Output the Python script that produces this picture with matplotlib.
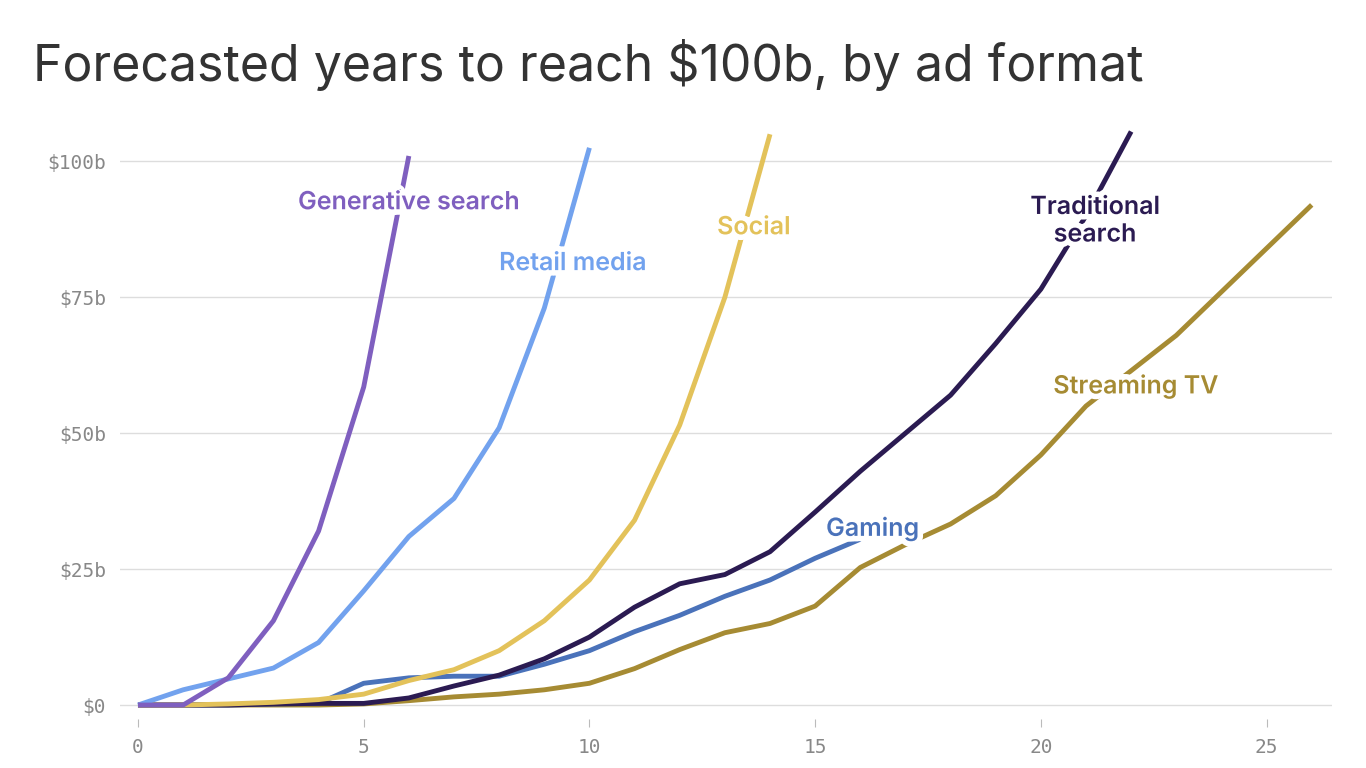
import matplotlib
matplotlib.use("Agg")
import matplotlib.pyplot as plt
import matplotlib.patheffects as pe

gen_search = [0, 0, 5, 15.5, 32, 58.5, 101]
retail = [0, 2.8, 4.8, 6.8, 11.5, 21, 31, 38, 51, 73, 102.5]
social = [0, 0, 0.2, 0.5, 1, 2, 4.5, 6.5, 10, 15.5, 23, 34, 51.5, 75, 105]
gaming = [0, 0, 0, 0.2, 0.3, 4, 5, 5.3, 5.3, 7.5, 10, 13.5, 16.5, 20, 23, 27, 30.5]
trad_search = [0, 0, 0, 0.2, 0.3, 0.3, 1.3, 3.5, 5.5, 8.5, 12.5, 18, 22.3, 24, 28.2,
               35.5, 43, 50, 57, 66.5, 76.5, 90, 105.5]
streaming = [0, 0, 0, 0, 0, 0.2, 0.8, 1.5, 2, 2.8, 4, 6.7, 10.2, 13.3, 15, 18.2, 25.3,
             29.5, 33.3, 38.5, 46, 55, 61.5, 68, 76, 84, 92]

yticks = [0, 25, 50, 75, 100]
ylabels = ["$0", "$25b", "$50b", "$75b", "$100b"]
xticks = [0, 5, 10, 15, 20, 25]

fig = plt.figure(figsize=(13.66, 7.68), dpi=100)
ax = fig.add_axes([0.0878, 0.0643, 0.887, 0.768])

series = [
    (streaming, "#a68b33", "Streaming TV", 22.1, 58.7),
    (gaming, "#4a72ba", "Gaming", 16.27, 32.5),
    (trad_search, "#2b1b52", "Traditional\nsearch", 21.2, 89),
    (social, "#e3c25a", "Social", 13.64, 87.8),
    (retail, "#72a2ee", "Retail media", 9.63, 81.2),
    (gen_search, "#7f5fbf", "Generative search", 6.0, 92.4),
]
for vals, col, name, lx, ly in series:
    ax.plot(range(len(vals)), vals, color=col, lw=3.5, solid_capstyle="butt", zorder=3)
    ax.text(lx, ly, name, color=col, fontsize=18, fontweight="semibold", family="Inter",
            ha="center", va="center", linespacing=1.25, zorder=4,
            path_effects=[pe.withStroke(linewidth=8, foreground="white")])

ax.set_xlim(-0.4, 26.44)
ax.set_ylim(-2.5, 106)
ax.set_yticks(yticks)
ax.set_yticklabels(ylabels)
ax.set_xticks(xticks)
ax.grid(axis="y", color="#dddddd", lw=1)
ax.set_axisbelow(True)
for s in ax.spines.values():
    s.set_visible(False)
ax.tick_params(axis="y", length=0, pad=10, labelsize=14, labelcolor="#888888")
ax.tick_params(axis="x", length=6, color="#bbbbbb", labelsize=14, labelcolor="#888888", pad=8)
for lab in ax.get_xticklabels() + ax.get_yticklabels():
    lab.set_family("DejaVu Sans Mono")

fig.text(0.024, 0.915, "Forecasted years to reach $100b, by ad format", fontsize=36,
         family="Inter", color="#333333", va="center")

fig.savefig("out.png", dpi=100)
